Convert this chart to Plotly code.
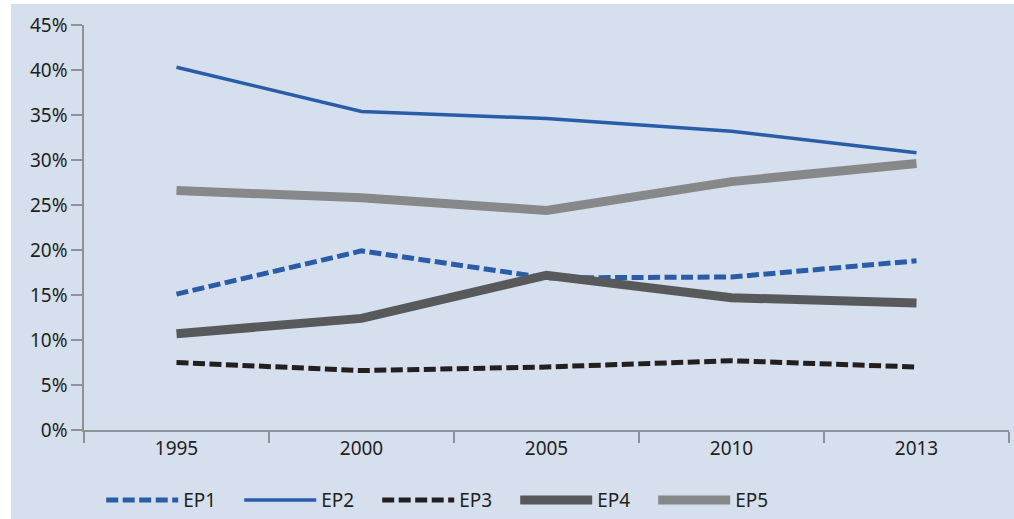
import plotly.graph_objects as go

years = ["1995", "2000", "2005", "2010", "2013"]
ep1 = [0.151, 0.199, 0.169, 0.170, 0.188]
ep2 = [0.403, 0.354, 0.346, 0.332, 0.308]
ep3 = [0.075, 0.066, 0.070, 0.077, 0.070]
ep4 = [0.107, 0.124, 0.172, 0.147, 0.141]
ep5 = [0.266, 0.258, 0.244, 0.276, 0.296]

BG = "#d5dfed"
TEXT = "#231f20"
AXIS = "#8e9297"

series = [
    ("EP1", ep1, "#2a5ca8", 5, "12px,4.5px"),
    ("EP2", ep2, "#2a5ca8", 3.5, "solid"),
    ("EP3", ep3, "#231f20", 5, "12px,4.5px"),
    ("EP4", ep4, "#58595b", 9, "solid"),
    ("EP5", ep5, "#87888a", 9, "solid"),
]

fig = go.Figure()
for name, vals, color, width, dash in series:
    fig.add_trace(go.Scatter(
        x=years, y=vals, name=name, mode="lines",
        line=dict(color=color, width=width, dash=dash),
    ))

fig.update_layout(
    width=1014, height=519,
    margin=dict(l=84, r=5, t=25, b=89, autoexpand=False),
    paper_bgcolor="white",
    plot_bgcolor=BG,
    font=dict(family="Noto Sans", size=19, color=TEXT),
    showlegend=True,
    legend=dict(
        orientation="h", x=0.0186, xanchor="left", y=-0.173, yanchor="middle",
        bgcolor="rgba(0,0,0,0)", itemwidth=72,
        entrywidth=51, entrywidthmode="pixels",
        font=dict(size=19, color=TEXT), tracegroupgap=0,
    ),
    shapes=[dict(
        type="rect", xref="paper", yref="paper",
        x0=-0.0789, x1=1.01, y0=-0.23, y1=1.0519,
        fillcolor=BG, line=dict(width=0), layer="below",
    )],
)

fig.update_xaxes(
    type="category", range=[-0.5, 4.5],
    showline=True, linecolor=AXIS, linewidth=1.5,
    ticks="outside", tickson="boundaries", ticklen=11,
    tickcolor=AXIS, tickwidth=1.5, showgrid=False, zeroline=False,
)
fig.update_yaxes(
    range=[0, 0.45], dtick=0.05, tickformat=".0%",
    showline=True, linecolor=AXIS, linewidth=1.5,
    ticks="outside", ticklen=11, tickcolor=AXIS, tickwidth=1.5,
    showgrid=False, zeroline=False,
)

fig.write_html("out.html")
